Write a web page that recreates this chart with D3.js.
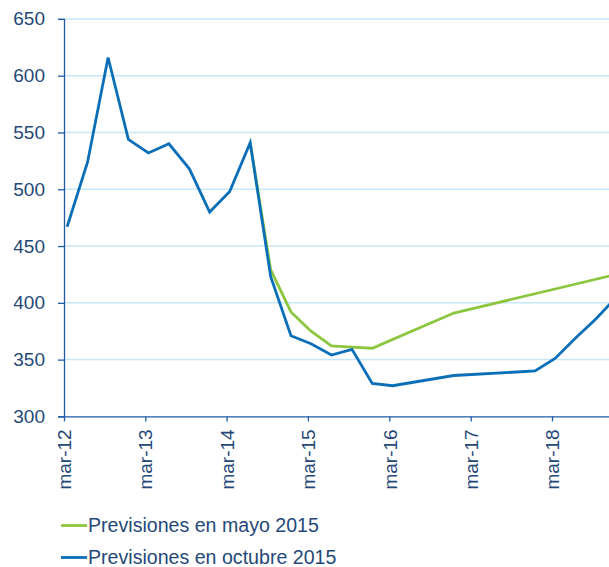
<!DOCTYPE html>
<html>
<head>
<meta charset="utf-8">
<script src="https://cdn.jsdelivr.net/npm/d3@7"></script>
<style>
  body { margin: 0; background: #fff; }
  svg { display: block; font-family: "Liberation Sans", Arial, sans-serif; }
</style>
</head>
<body>
<svg id="chart" width="609" height="567"></svg>
<script>
// quarterly observations and forecasts
const octubreDates = ['2012-03-15','2012-06-15','2012-09-15','2012-12-15','2013-03-15','2013-06-15','2013-09-15','2013-12-15',
	'2014-03-15','2014-06-15','2014-09-15','2014-12-15','2015-03-15','2015-06-15','2015-09-15','2015-12-15','2016-03-15',
	'2016-12-15','2017-12-15','2018-03-15','2018-06-15','2018-09-15','2018-12-15']
const octubreValues = [467, 524, 616, 544, 532, 540, 518, 480, 498, 541, 423, 371, 364, 354, 359, 329, 327,
	336, 340, 351, 369, 386, 405]

const mayoDates = ['2014-06-15','2014-09-15','2014-12-15','2015-03-15','2015-06-15','2015-09-15','2015-12-15',
	'2016-12-15','2017-12-15','2018-12-15']
const mayoValues = [541, 429, 392, 375, 362, 361, 360, 391, 408, 425]

const yTicks = [300, 350, 400, 450, 500, 550, 600, 650]
const xTickYears = [2012, 2013, 2014, 2015, 2016, 2017, 2018]
const seriesNames = ['Previsiones en mayo 2015', 'Previsiones en octubre 2015']
const seriesColors = ['#8cc63f', '#0a6fb8']

const parse = d3.timeParse('%Y-%m-%d')
const svg = d3.select('#chart')

const x = d3.scaleTime()
	.domain([new Date(2012, 2, 1), new Date(2018, 10, 12)])
	.range([64, 609])
const y = d3.scaleLinear()
	.domain([300, 650])
	.range([416.4, 18.9])

const textColor = '#254878'
const axisColor = '#1d5ba6'

// gridlines
svg.append('g')
	.selectAll('line')
	.data(yTicks.filter(d => d > 300))
	.join('line')
	.attr('x1', 64)
	.attr('x2', 609)
	.attr('y1', d => y(d))
	.attr('y2', d => y(d))
	.attr('stroke', '#c8e7f7')
	.attr('stroke-width', 1.5)

svg.append('clipPath')
	.attr('id', 'plotClip')
	.append('rect')
	.attr('x', 64)
	.attr('y', 0)
	.attr('width', 545)
	.attr('height', 417)

const line = d3.line()
	.x(d => x(d.date))
	.y(d => y(d.value))

const mayo = mayoDates.map((d, i) => ({date: parse(d), value: mayoValues[i]}))
const octubre = octubreDates.map((d, i) => ({date: parse(d), value: octubreValues[i]}))

svg.append('g')
	.attr('clip-path', 'url(#plotClip)')
	.selectAll('path')
	.data([mayo, octubre])
	.join('path')
	.attr('d', line)
	.attr('fill', 'none')
	.attr('stroke', (d, i) => seriesColors[i])
	.attr('stroke-width', 2.8)
	.attr('stroke-linejoin', 'miter')

// y axis
const yAxis = svg.append('g')
	.attr('transform', 'translate(64,0)')
	.call(d3.axisLeft(y).tickValues(yTicks).tickSize(6).tickPadding(13).tickFormat(d3.format('d')))
yAxis.select('.domain').attr('stroke', axisColor).attr('stroke-width', 1.3)
yAxis.selectAll('.tick line').attr('stroke', axisColor).attr('stroke-width', 1.3)
yAxis.selectAll('.tick text')
	.attr('fill', textColor)
	.attr('font-size', 19)
	.attr('font-family', '"Liberation Sans", Arial, sans-serif')

// x axis
const xTicks = xTickYears.map(yr => new Date(yr, 2, 1))
const xAxis = svg.append('g')
	.attr('transform', 'translate(0,416.4)')
	.call(d3.axisBottom(x).tickValues(xTicks).tickSize(5).tickSizeOuter(0)
		.tickFormat(d => 'mar-' + String(d.getFullYear()).slice(2)))
xAxis.select('.domain').attr('stroke', axisColor).attr('stroke-width', 1.3)
xAxis.selectAll('.tick line').attr('stroke', axisColor).attr('stroke-width', 1.3)
xAxis.selectAll('.tick text')
	.attr('fill', textColor)
	.attr('font-size', 19)
	.attr('font-family', '"Liberation Sans", Arial, sans-serif')
	.attr('text-anchor', 'end')
	.attr('transform', 'rotate(-90)')
	.attr('x', -13)
	.attr('y', 0)
	.attr('dy', '0.35em')

// legend
const legend = svg.append('g')
	.selectAll('g')
	.data(seriesNames)
	.join('g')
	.attr('transform', (d, i) => 'translate(61,' + (525.5 + i * 32) + ')')

legend.append('line')
	.attr('x1', 0)
	.attr('x2', 26)
	.attr('stroke', (d, i) => seriesColors[i])
	.attr('stroke-width', 2.8)

legend.append('text')
	.attr('x', 27)
	.attr('y', 6)
	.attr('fill', textColor)
	.attr('font-size', 19.6)
	.text(d => d)
</script>
</body>
</html>
